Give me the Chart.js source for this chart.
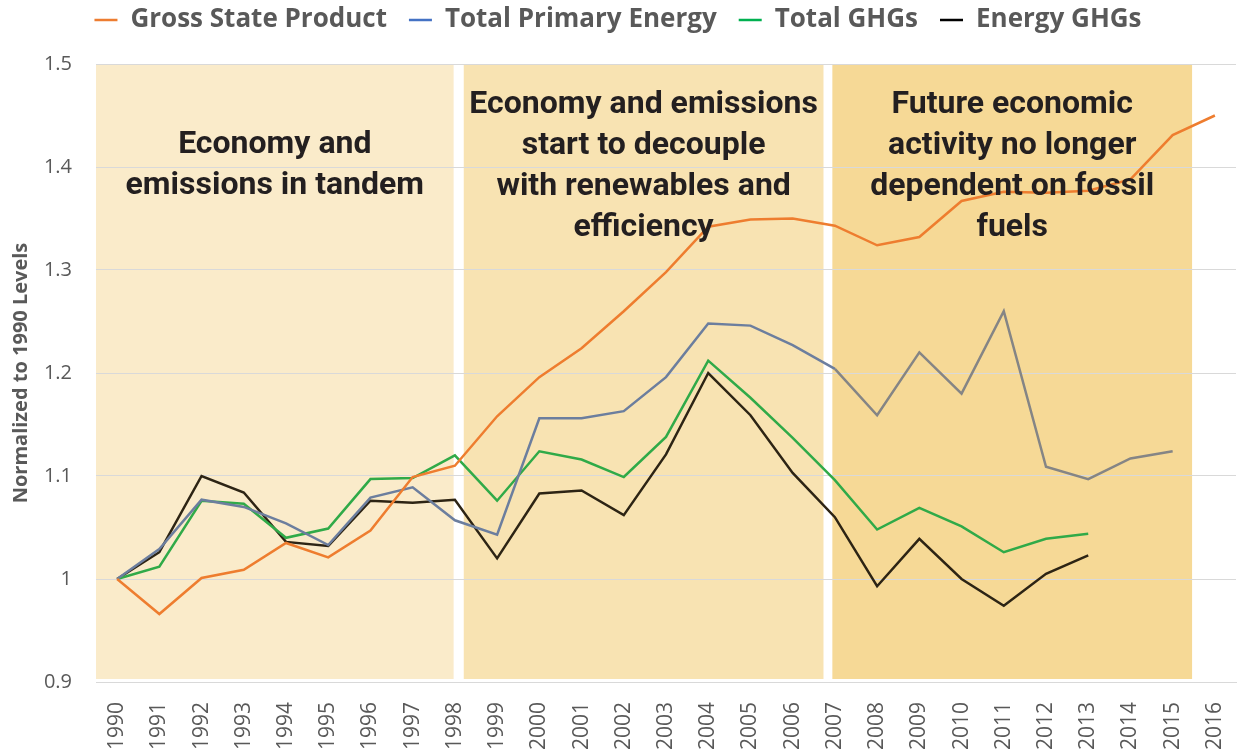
<!DOCTYPE html>
<html>
<head>
<meta charset="utf-8">
<script src="https://cdn.jsdelivr.net/npm/chart.js@4.4.1/dist/chart.umd.min.js"></script>
<style>
  html, body { margin: 0; padding: 0; background: #fff; }
  #wrap { width: 1241px; height: 751px; }
</style>
</head>
<body>
<div id="wrap"><canvas id="chart"></canvas></div>
<script>
"use strict";

// ── data ──────────────────────────────────────────────────────────────────────
const years = ["1990","1991","1992","1993","1994","1995","1996","1997","1998","1999",
  "2000","2001","2002","2003","2004","2005","2006","2007","2008","2009",
  "2010","2011","2012","2013","2014","2015","2016"];

const grossStateProduct = [1.000, 0.966, 1.001, 1.009, 1.035, 1.021, 1.047, 1.099, 1.110, 1.158,
  1.196, 1.224, 1.260, 1.298, 1.342, 1.349, 1.350, 1.343, 1.324, 1.332,
  1.367, 1.376, 1.375, 1.377, 1.388, 1.431, 1.450];

const totalPrimaryEnergy = [1.000, 1.029, 1.077, 1.070, 1.054, 1.033, 1.079, 1.089, 1.057, 1.043,
  1.156, 1.156, 1.163, 1.196, 1.248, 1.246, 1.227, 1.204, 1.159, 1.220,
  1.180, 1.260, 1.109, 1.097, 1.117, 1.124, null];

const totalGHGs = [1.000, 1.012, 1.076, 1.073, 1.040, 1.049, 1.097, 1.098, 1.120, 1.076,
  1.124, 1.116, 1.099, 1.138, 1.212, 1.176, 1.137, 1.096, 1.048, 1.069,
  1.051, 1.026, 1.039, 1.044, null, null, null];

const energyGHGs = [1.000, 1.026, 1.100, 1.084, 1.036, 1.032, 1.076, 1.074, 1.077, 1.020,
  1.083, 1.086, 1.062, 1.121, 1.200, 1.159, 1.103, 1.060, 0.993, 1.039,
  1.000, 0.974, 1.005, 1.023, null, null, null];

// shaded periods, in category-index units
const bandFrom = [-0.5, 8.21, 16.94];
const bandTo   = [7.97, 16.73, 25.46];
const bandText = [
  ["Economy and", "emissions in tandem"],
  ["Economy and emissions", "start to decouple", "with renewables and", "efficiency"],
  ["Future economic", "activity no longer", "dependent on fossil", "fuels"],
];
const bandTextTop = [1.421, 1.460, 1.460];

// ── styles ────────────────────────────────────────────────────────────────────
const BAND_COLORS = ["#FAEBCA", "#F8E3B2", "#F6D996"];
const GRID = "#D9D9D9";
const MUTED = "#595959";

// ── plugins ───────────────────────────────────────────────────────────────────
const legendSpace = {
  id: "legendSpace",
  beforeInit(chart) {
    const fit = chart.legend.fit;
    chart.legend.fit = function () {
      fit.call(this);
      this.height = 79;
    };
  },
};

const bands = {
  id: "bands",
  beforeDraw(chart) {
    const { ctx, chartArea: a, scales: { x } } = chart;
    ctx.save();
    bandFrom.forEach((from, i) => {
      const x0 = x.getPixelForValue(from);
      const x1 = x.getPixelForValue(bandTo[i]);
      ctx.fillStyle = BAND_COLORS[i];
      ctx.fillRect(x0, a.top, x1 - x0, a.bottom - a.top - 3);
    });
    ctx.restore();
  },
  afterDatasetsDraw(chart) {
    const { ctx, scales: { x, y } } = chart;
    ctx.save();
    ctx.font = "bold 32px Roboto, 'Open Sans', sans-serif";
    ctx.fillStyle = "#231F20";
    ctx.textAlign = "center";
    ctx.textBaseline = "middle";
    bandText.forEach((lines, i) => {
      const cx = (x.getPixelForValue(bandFrom[i]) + x.getPixelForValue(bandTo[i])) / 2;
      const top = y.getPixelForValue(bandTextTop[i]);
      lines.forEach((t, j) => ctx.fillText(t, cx, top + j * 41));
    });
    ctx.restore();
  },
};

// ── chart ─────────────────────────────────────────────────────────────────────
function line(label, data, color, segColor) {
  return {
    label, data,
    borderColor: color,
    backgroundColor: color,
    borderWidth: 2.5,
    pointRadius: 0,
    tension: 0,
    spanGaps: false,
    segment: { borderColor: segColor },
  };
}

new Chart(document.getElementById("chart"), {
  type: "line",
  data: {
    labels: years,
    datasets: [
      line("Gross State Product", grossStateProduct, "#ED7D31", () => "#EE7D2F"),
      line("Total Primary Energy", totalPrimaryEnergy, "#4472C4",
        c => (c.p0DataIndex >= 17 ? "#858585" : "#6C7E9E")),
      line("Total GHGs", totalGHGs, "#00B050", () => "#30AA48"),
      line("Energy GHGs", energyGHGs, "#000000", () => "#2D2414"),
    ],
  },
  options: {
    responsive: true,
    maintainAspectRatio: false,
    animation: false,
    layout: { padding: { top: -15, right: 5, left: 0, bottom: 0 } },
    plugins: {
      legend: {
        position: "top",
        labels: {
          usePointStyle: true,
          pointStyle: "line",
          pointStyleWidth: 23,
          padding: 22,
          color: MUTED,
          font: { family: "'Open Sans', sans-serif", size: 26, weight: "bold" },
        },
      },
      tooltip: { enabled: false },
    },
    scales: {
      x: {
        offset: true,
        grid: { display: false },
        border: { display: true, color: GRID, width: 1 },
        ticks: {
          autoSkip: false,
          maxRotation: 90,
          minRotation: 90,
          padding: 12,
          color: MUTED,
          font: { family: "'Open Sans', sans-serif", size: 21 },
        },
        afterFit(s) { s.height = 69; s.paddingLeft = 0; s.paddingRight = 0; },
      },
      y: {
        min: 0.9,
        max: 1.5,
        grid: { color: GRID, lineWidth: 1, drawTicks: false },
        border: { display: false },
        ticks: {
          stepSize: 0.1,
          padding: 24,
          color: MUTED,
          font: { family: "'Open Sans', sans-serif", size: 20 },
          callback: v => String(Number(v.toFixed(1))),
        },
        title: {
          display: true,
          text: "Normalized to 1990 Levels",
          color: MUTED,
          padding: { top: 9, bottom: 0 },
          font: { family: "'Open Sans', sans-serif", size: 20, weight: "bold" },
        },
        afterFit(s) { s.width = 96; },
      },
    },
  },
  plugins: [legendSpace, bands],
});
</script>
</body>
</html>
